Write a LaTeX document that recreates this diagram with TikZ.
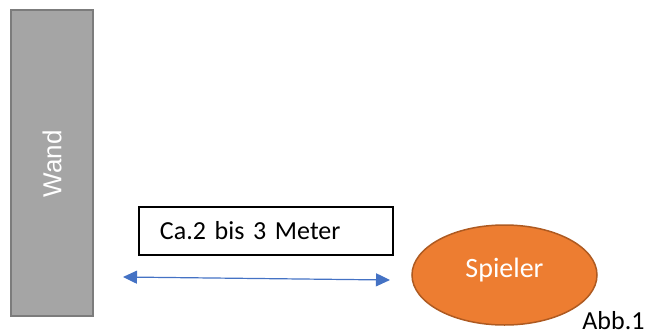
\documentclass[tikz,border=0pt]{standalone}
\usepackage{fontspec}
\setmainfont{Carlito}
\newfontfamily\arialfont{Liberation Sans}
\usetikzlibrary{shapes.geometric,arrows.meta}
\definecolor{wand_grey}{RGB}{165, 165, 165}
\definecolor{wand_edge}{RGB}{124, 124, 124}
\definecolor{sp_orange}{RGB}{237, 125, 49}
\definecolor{sp_edge}{RGB}{174, 90, 33}
\definecolor{arr_blue}{RGB}{68, 114, 196}
\tikzstyle{wall}=[rectangle,fill=wand_grey,draw=wand_edge,line width=1pt,
  minimum width=41pt,minimum height=153pt,text=white,
  font=\arialfont\fontsize{13}{15}\selectfont]
\tikzstyle{lbl}=[rectangle,fill=white,draw=black,line width=0.75pt,
  minimum width=127pt,minimum height=24pt,inner xsep=10.5pt,
  text width=106pt,align=left,font=\fontsize{13}{15}\selectfont]
\tikzstyle{player}=[ellipse,fill=sp_orange,draw=sp_edge,line width=0.75pt,
  minimum width=92.5pt,minimum height=50pt,inner sep=0pt,text=white,
  font=\fontsize{14}{16}\selectfont]
\tikzstyle{dist}=[arr_blue,line width=0.6pt,
  {Triangle[length=7pt,width=6.5pt]}-{Triangle[length=7pt,width=6.5pt]}]
\tikzstyle{none}=[]

\begin{document}
\begin{tikzpicture}[x=0.5pt, y=-0.5pt]
    \useasboundingbox (0, 0) rectangle (650, 333);
    \node [style=wall] (wand) at (52, 163) {};
    \node [style=none, rotate=90, text=white,
      font=\arialfont\fontsize{13}{15}\selectfont] (wtext) at (52, 164) {Wand};
    \node [style=lbl] (meter) at (266, 231) {Ca.2 bis 3 Meter};
    \node [style=player] (spieler) at (504.5, 275) {};
    \node [style=none, text=white, font=\fontsize{14}{16}\selectfont]
      (stext) at (504.5, 270) {Spieler};
    \node [style=none, anchor=base west, inner sep=0pt,
      font=\fontsize{13}{15}\selectfont] (abb) at (582, 329) {Abb.1};
    \coordinate (a) at (123, 277);
    \coordinate (b) at (390, 280);
    \draw [style=dist] (a) to (b);
\end{tikzpicture}
\end{document}
